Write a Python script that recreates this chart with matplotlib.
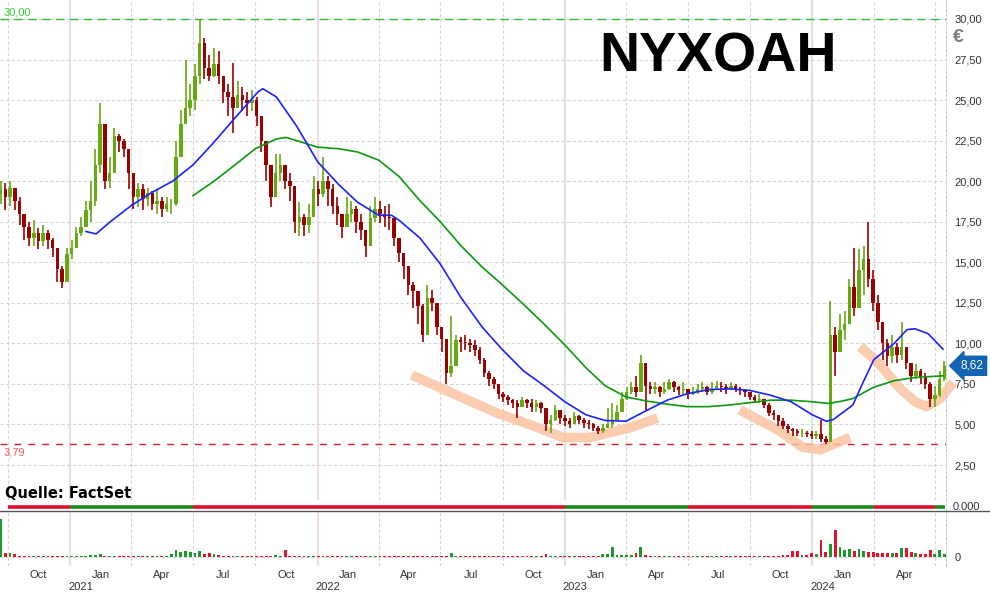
import numpy as np
import pandas as pd
import matplotlib
matplotlib.use("Agg")
import matplotlib.pyplot as plt
import matplotlib.dates as mdates
from matplotlib.lines import Line2D

plt.rcParams['font.family'] = ['Liberation Sans', 'DejaVu Sans']

# weekly bars, price in EUR
weeks = pd.date_range("2020-09-20", periods=200, freq="7D")

close = [
    19.5, 19.0, 19.6, 18.8, 18.0, 17.2, 16.5, 16.8, 16.3, 16.8,
    16.4, 15.9, 14.6, 13.8, 15.5, 15.9, 16.8, 17.2, 18.2, 18.8,
    21.0, 23.5, 20.0, 20.5, 22.8, 22.5, 22.0, 20.5, 19.0, 19.5,
    18.9, 19.3, 18.6, 18.8, 18.3, 18.6, 18.6, 21.5, 23.5, 24.5,
    25.0, 26.5, 28.5, 27.0, 26.5, 27.2, 26.5, 25.5, 25.2, 24.5,
    25.3, 25.0, 24.8, 25.0, 24.0, 22.5, 21.0, 19.0, 20.5, 21.0,
    20.0, 19.7, 17.5, 17.8, 17.3, 17.8, 19.5, 19.2, 20.0, 19.5,
    18.5, 18.0, 17.2, 18.0, 18.3, 17.5, 17.0, 16.0, 17.7, 18.3,
    18.0, 17.8, 17.7, 16.5, 15.6, 14.8, 13.6, 13.2, 12.3, 10.5,
    12.8, 12.5, 11.0, 10.3, 8.2, 8.6, 10.2, 10.1, 10.0, 9.9,
    9.6, 9.0, 8.2, 7.8, 7.5, 6.9, 6.7, 6.5, 6.3, 6.1,
    6.5, 6.3, 6.1, 6.3, 6.0, 5.0, 5.3, 5.9, 5.4, 5.2,
    5.0, 5.5, 5.3, 5.1, 5.0, 4.8, 4.6, 4.8, 5.0, 5.3,
    5.8, 6.6, 7.0, 7.3, 7.0, 8.8, 7.4, 7.2, 7.3, 7.0,
    7.2, 7.6, 7.3, 7.1, 7.2, 6.9, 7.0, 7.2, 7.3, 7.0,
    7.2, 7.4, 7.3, 7.2, 7.4, 7.2, 7.1, 7.0, 6.7, 6.5,
    6.6, 6.2, 5.7, 5.6, 5.2, 4.9, 4.7, 4.6, 4.5, 4.5,
    4.4, 4.3, 4.4, 4.1, 3.9, 10.5, 9.5, 10.8, 11.2, 13.5,
    12.2, 14.5, 15.2, 14.0, 12.5, 11.3, 10.0, 9.2, 9.8, 9.3,
    9.8, 8.8, 8.0, 8.3, 7.9, 7.5, 6.6, 6.8, 7.8, 8.62,
]
high = [
    20.0, 19.9, 20.0, 19.5, 19.0, 17.9, 17.5, 17.6, 17.1, 17.3,
    17.0, 16.5, 15.8, 14.8, 15.9, 16.4, 17.2, 17.8, 18.8, 20.0,
    22.0, 24.8, 21.8, 21.5, 23.3, 22.9, 22.6, 22.0, 20.0, 19.9,
    19.8, 19.6, 19.4, 19.5, 19.0, 19.0, 18.9, 22.5, 24.4, 27.5,
    26.0, 27.2, 30.0, 28.8, 27.8, 28.2, 28.0, 26.5, 26.0, 27.3,
    26.2, 25.8, 25.5, 25.6, 25.2, 24.0, 22.5, 21.0, 21.7, 21.7,
    21.0, 20.5, 19.0, 18.7, 18.0, 18.6, 20.3, 20.0, 21.5, 20.3,
    19.8, 19.0, 18.0, 19.0, 18.8, 18.5, 18.0, 17.0, 18.5, 19.0,
    18.8, 18.5, 18.6, 17.4, 16.3, 15.5, 14.6, 13.8, 13.0, 12.4,
    13.6, 13.3, 12.3, 11.0, 9.5, 11.7, 10.5, 10.4, 10.5, 10.3,
    10.2, 9.8, 9.1, 8.3, 7.9, 7.5, 7.0, 6.8, 6.6, 6.5,
    6.7, 6.6, 6.6, 6.5, 6.4, 6.0, 5.6, 6.2, 5.9, 5.6,
    5.4, 5.8, 5.6, 5.4, 5.3, 5.1, 4.9, 5.0, 6.0, 6.3,
    6.2, 7.0, 7.3, 7.6, 8.0, 9.3, 8.2, 7.6, 7.6, 7.4,
    7.6, 7.8, 7.7, 7.4, 7.6, 7.2, 7.3, 7.5, 7.6, 7.4,
    7.6, 7.7, 7.6, 7.5, 7.6, 7.5, 7.3, 7.2, 7.0, 6.8,
    6.9, 6.5, 6.3, 5.9, 5.6, 5.4, 5.0, 4.8, 4.7, 4.7,
    4.6, 4.6, 4.6, 5.3, 4.3, 12.6, 11.0, 11.8, 12.0, 14.0,
    15.9, 15.8, 16.0, 17.5, 14.5, 13.0, 11.0, 10.3, 10.5, 10.0,
    11.3, 9.8, 8.6, 8.7, 8.4, 8.2, 7.6, 7.4, 8.3, 8.9,
]
low = [
    18.6, 18.2, 18.5, 18.2, 17.3, 16.4, 16.0, 16.0, 15.8, 16.0,
    15.8, 15.3, 13.8, 13.4, 14.6, 15.2, 16.0, 16.6, 17.2, 17.5,
    18.5, 20.5, 19.5, 19.6, 21.5, 21.8, 21.5, 19.5, 18.3, 18.4,
    18.2, 18.5, 18.2, 18.0, 17.8, 18.1, 18.0, 18.5, 22.5, 23.8,
    24.0, 24.4, 26.0, 26.3, 26.2, 26.4, 26.0, 24.8, 24.0, 23.0,
    24.5, 24.3, 24.0, 24.3, 23.4, 21.8, 20.0, 18.4, 19.0, 20.0,
    19.5, 18.8, 16.8, 16.6, 16.6, 16.8, 18.6, 18.5, 19.0, 18.5,
    18.0, 17.3, 16.5, 17.4, 17.5, 16.8, 16.4, 15.3, 16.7, 17.5,
    17.4, 17.2, 17.0, 16.0, 15.0, 14.0, 13.0, 12.2, 11.2, 10.1,
    12.0, 12.0, 10.5, 9.5, 7.5, 7.9, 9.0, 9.5, 9.6, 9.5,
    9.2, 8.7, 7.9, 7.4, 7.2, 6.6, 6.4, 6.2, 6.0, 5.4,
    6.1, 6.0, 5.8, 5.8, 5.7, 4.6, 4.5, 5.2, 5.0, 4.9,
    4.8, 5.0, 5.0, 4.8, 4.7, 4.6, 4.4, 4.5, 4.8, 4.8,
    5.3, 6.0, 6.5, 6.9, 6.7, 7.5, 5.9, 6.9, 6.9, 6.7,
    6.9, 7.1, 7.0, 6.8, 6.9, 6.6, 6.8, 6.9, 7.0, 6.8,
    6.9, 7.1, 7.0, 6.9, 7.1, 7.0, 6.8, 6.7, 6.5, 6.3,
    6.3, 6.0, 5.5, 5.3, 4.9, 4.7, 4.5, 4.3, 4.3, 4.2,
    4.2, 4.1, 4.1, 3.9, 3.79, 3.9, 8.0, 9.6, 10.2, 11.5,
    11.7, 12.6, 13.0, 13.5, 12.0, 10.8, 9.0, 8.6, 8.8, 8.8,
    9.0, 8.4, 7.6, 7.8, 7.5, 7.2, 6.1, 6.1, 6.7, 7.7,
]
# volume, thousand shares
volume = [
    380, 40, 45, 35, 15, 15, 10, 15, 10, 10,
    10, 15, 15, 10, 10, 10, 10, 10, 15, 20,
    25, 30, 15, 15, 10, 10, 10, 10, 15, 10,
    15, 10, 10, 10, 15, 15, 30, 70, 50, 60,
    50, 40, 60, 35, 40, 35, 25, 15, 10, 10,
    15, 10, 10, 15, 10, 15, 10, 15, 20, 15,
    70, 15, 10, 10, 10, 10, 10, 10, 10, 10,
    10, 10, 10, 10, 10, 10, 10, 10, 10, 10,
    10, 10, 10, 10, 10, 10, 10, 10, 10, 10,
    10, 10, 10, 10, 10, 40, 10, 10, 10, 10,
    10, 10, 10, 10, 10, 10, 10, 10, 10, 10,
    10, 10, 10, 10, 10, 30, 10, 10, 10, 10,
    10, 10, 10, 10, 10, 10, 10, 30, 30, 100,
    25, 25, 25, 20, 40, 100, 20, 15, 10, 10,
    10, 10, 10, 10, 10, 10, 10, 10, 10, 10,
    10, 10, 10, 10, 10, 10, 10, 10, 10, 10,
    10, 10, 10, 10, 15, 20, 25, 60, 60, 20,
    20, 40, 30, 170, 50, 130, 270, 100, 70, 80,
    60, 80, 60, 50, 50, 45, 40, 40, 40, 40,
    90, 90, 50, 40, 30, 30, 70, 30, 70, 30,
]

# moving averages
ma_short_dates = ["2021-01-24", "2021-02-08", "2021-03-01", "2021-04-01", "2021-05-01",
                  "2021-06-01", "2021-07-01", "2021-08-01", "2021-09-01", "2021-09-20",
                  "2021-10-05", "2021-10-12", "2021-11-01", "2021-12-01", "2022-01-01",
                  "2022-02-01", "2022-03-01", "2022-04-01", "2022-04-20", "2022-05-01",
                  "2022-06-01", "2022-07-01", "2022-08-01", "2022-09-01", "2022-10-01",
                  "2022-11-01", "2022-12-01", "2023-01-01", "2023-02-01", "2023-03-01",
                  "2023-04-01", "2023-05-01", "2023-06-01", "2023-07-01", "2023-08-01",
                  "2023-09-01", "2023-10-01", "2023-11-01", "2023-12-01", "2024-01-01",
                  "2024-01-22", "2024-02-01", "2024-03-01", "2024-03-15", "2024-04-01",
                  "2024-05-01", "2024-05-20", "2024-06-01", "2024-06-20", "2024-07-12"]
ma_short = [16.9, 16.75, 17.5, 18.5, 19.3,
            20.0, 21.0, 22.4, 23.9, 24.8,
            25.5, 25.7, 25.2, 23.4, 21.2,
            19.8, 18.7, 17.9, 17.9, 17.6,
            16.5, 14.9, 12.8, 11.0, 9.6,
            8.3, 7.4, 6.4, 5.6, 5.25,
            5.2, 5.85, 6.5, 6.9, 7.15,
            7.2, 7.1, 6.8, 6.4, 5.6,
            5.2, 5.3, 6.2, 7.5, 9.0,
            10.0, 10.85, 10.9, 10.6, 9.65]

ma_long_dates = ["2021-07-01", "2021-08-01", "2021-09-01", "2021-10-01", "2021-11-01",
                 "2021-11-15", "2021-12-01", "2022-01-01", "2022-02-01", "2022-03-01",
                 "2022-04-01", "2022-05-01", "2022-06-01", "2022-07-01", "2022-08-01",
                 "2022-09-01", "2022-10-01", "2022-11-01", "2022-12-01", "2023-01-01",
                 "2023-02-01", "2023-03-01", "2023-04-01", "2023-05-01", "2023-06-01",
                 "2023-07-01", "2023-08-01", "2023-09-01", "2023-10-01", "2023-11-01",
                 "2023-12-01", "2024-01-01", "2024-01-25", "2024-02-15", "2024-03-01",
                 "2024-04-01", "2024-05-01", "2024-06-01", "2024-07-12"]
ma_long = [19.1, 20.0, 21.0, 22.0, 22.6,
           22.7, 22.5, 22.1, 22.0, 21.8,
           21.3, 20.3, 18.8, 17.5, 16.0,
           14.7, 13.6, 12.4, 11.2, 9.9,
           8.5, 7.4, 6.7, 6.45, 6.25,
           6.1, 6.1, 6.2, 6.35, 6.5,
           6.5, 6.4, 6.3, 6.45, 6.6,
           7.3, 7.7, 7.9, 8.0]

# hand-drawn bottom marks
arc1_dates = ["2022-05-20", "2022-07-15", "2022-09-23", "2022-11-10", "2022-12-29",
              "2023-02-07", "2023-04-07", "2023-05-18"]
arc1 = [8.05, 7.0, 5.7, 5.0, 4.2, 4.2, 4.8, 5.4]
arc2_dates = ["2023-09-16", "2023-11-10", "2023-12-18", "2024-01-13", "2024-02-26"]
arc2 = [5.9, 4.7, 3.6, 3.45, 4.2]
arc3_dates = ["2024-03-12", "2024-04-10", "2024-05-10", "2024-06-01", "2024-06-18",
              "2024-07-08", "2024-07-27"]
arc3 = [9.8, 8.7, 7.2, 6.4, 6.1, 6.6, 7.6]

# signal strip
signal_start = ["2020-10-01", "2021-01-01", "2021-07-01", "2023-01-01", "2023-07-01",
                "2024-01-01", "2024-04-01", "2024-07-01"]
signal_end = ["2021-01-01", "2021-07-01", "2023-01-01", "2023-07-01", "2024-01-01",
              "2024-04-01", "2024-07-01", "2024-07-15"]
signal_col = ["r", "g", "r", "g", "r", "g", "r", "g"]

price_max = 30.00
price_min = 3.79
last_price = 8.62

# ---------------------------------------------------------------
close = np.array(close)
high = np.array(high)
low = np.array(low)
volume = np.array(volume)
openp = np.r_[close[0] - 0.3, close[:-1]]
up = close >= openp
UP = '#66aa11'
DOWN = '#990000'
cols = np.where(up, UP, DOWN)
vcols = np.where(up, '#1a9a2a', '#e8102a')

W, H = 990, 592
def frac(x0, y0, x1, y1):
    return [x0 / W, 1 - y1 / H, (x1 - x0) / W, (y1 - y0) / H]

fig = plt.figure(figsize=(9.9, 5.92), dpi=100)
ax = fig.add_axes(frac(0, 0, 946, 500))
ax_sig = fig.add_axes(frac(0, 502, 946, 511))
ax_vol = fig.add_axes(frac(0, 512, 946, 566))

t0 = mdates.date2num(pd.Timestamp("2020-10-01"))
xlim = (t0 + (0 - 8) / 0.6775, t0 + (946 - 8) / 0.6775)

quarters = pd.date_range("2020-10-01", "2024-07-01", freq="QS")
mids = quarters[:-1] + pd.Timedelta(days=45)
grid_kw = dict(color='#d4d4d4', lw=0.8, linestyle=(0, (3, 2)))

for a in (ax, ax_sig, ax_vol):
    a.set_xlim(*xlim)
    a.set_facecolor('white')
    for s in ('left', 'top', 'bottom'):
        a.spines[s].set_visible(False)
    a.spines['right'].set_color('#cccccc')
    a.spines['right'].set_linestyle((0, (2, 2)))

for a in (ax, ax_vol):
    for q in quarters:
        if q.month == 1:
            c = '#eedcee' if q.year < 2023 else '#d6e8d6'
            a.axvline(q, color=c, lw=1.6, zorder=0)
        else:
            a.axvline(q, zorder=0, **grid_kw)

# ---- price panel
ax.set_ylim(0.345, 31.17)
ax.set_yticks(np.arange(2.5, 30.01, 2.5))
ax.set_yticklabels([f"{v:.2f}".replace('.', ',') for v in np.arange(2.5, 30.01, 2.5)])
ax.yaxis.tick_right()
ax.tick_params(axis='y', length=0, pad=6, labelsize=8, labelcolor='#333333')
ax.set_xticks([])
ax.yaxis.grid(True, zorder=0, **grid_kw)
ax.set_axisbelow(True)

ax.axhline(price_max, color='#33bb33', lw=1, linestyle=(0, (6, 4)), zorder=1)
ax.axhline(price_min, color='#dd2222', lw=1, linestyle=(0, (5, 5)), zorder=1)
ax.text(0.004, price_max + 0.1, "30,00", transform=ax.get_yaxis_transform(),
        color='#33cc33', fontsize=8, va='bottom', ha='left')
ax.text(0.004, price_min - 0.2, "3,79", transform=ax.get_yaxis_transform(),
        color='#ff5555', fontsize=8, va='top', ha='left')

for d, v in ((arc1_dates, arc1), (arc2_dates, arc2), (arc3_dates, arc3)):
    ax.plot(pd.to_datetime(d), v, color='#fcc3a2', lw=7, alpha=0.85,
            solid_capstyle='butt', solid_joinstyle='round', zorder=2, clip_on=False)

ax.vlines(weeks, np.minimum(low, openp), np.maximum(high, openp), colors=cols, lw=1.2, zorder=3)
ax.bar(weeks, np.abs(close - openp), bottom=np.minimum(close, openp), width=5.2,
       color=cols, zorder=3)

ax.plot(pd.to_datetime(ma_long_dates), ma_long, color='#0a9a0a', lw=1.2, zorder=4)
ax.plot(pd.to_datetime(ma_short_dates), ma_short, color='#1a22ff', lw=1.2, zorder=4)

ax.text(1.015, last_price, f"{last_price:.2f}".replace('.', ','),
        transform=ax.get_yaxis_transform(), color='white', fontsize=8.5,
        va='center', ha='left', zorder=6, clip_on=False,
        bbox=dict(boxstyle='larrow,pad=0.3', fc='#1464b4', ec='#1464b4'))

fig.text(718 / W, 1 - 58 / H, "NYXOAH", fontsize=40, fontweight='bold',
         family='Liberation Sans', ha='center', va='center')
fig.text(958 / W, 1 - 38 / H, "€", fontsize=14, fontweight='bold', color='#808080',
         ha='center', va='center')
fig.text(5 / W, 1 - 493 / H, "Quelle: FactSet", fontsize=10.5, fontweight='bold',
         family='DejaVu Sans', ha='left', va='center')

# ---- signal strip
ax_sig.set_ylim(-1, 1)
ax_sig.set_xticks([])
ax_sig.set_yticks([])
for s, e, c in zip(signal_start, signal_end, signal_col):
    ax_sig.hlines(0, pd.Timestamp(s), pd.Timestamp(e),
                  colors='#e0102a' if c == 'r' else '#1a8a1a', lw=2.6)
ax_sig.text(1.0065, 0, "0.000", transform=ax_sig.get_yaxis_transform(),
            fontsize=8, color='#333333', va='center', ha='left')
fig.add_artist(Line2D([0, 1], [1 - 511 / H] * 2, color='#555555', lw=1))

# ---- volume
ax_vol.set_ylim(-90, 450)
ax_vol.bar(weeks, volume, width=4.2, color=vcols, zorder=3)
ax_vol.set_yticks([0])
ax_vol.set_yticklabels(["0"])
ax_vol.yaxis.tick_right()
ax_vol.tick_params(axis='y', length=0, pad=6, labelsize=8, labelcolor='#333333')
ax_vol.axhline(0, zorder=0, **grid_kw)
ax_vol.set_xticks(mids)
ax_vol.set_xticklabels([m.strftime('%b') for m in quarters[:-1]])
ax_vol.tick_params(axis='x', length=0, pad=3, labelsize=8, labelcolor='#333333')
for yr in (2021, 2022, 2023, 2024):
    ax_vol.text(pd.Timestamp(f"{yr}-01-16"), -0.39, str(yr), transform=ax_vol.get_xaxis_transform(),
                fontsize=8, color='#333333', ha='center', va='center')

fig.savefig("out.png", dpi=100, facecolor='white')
